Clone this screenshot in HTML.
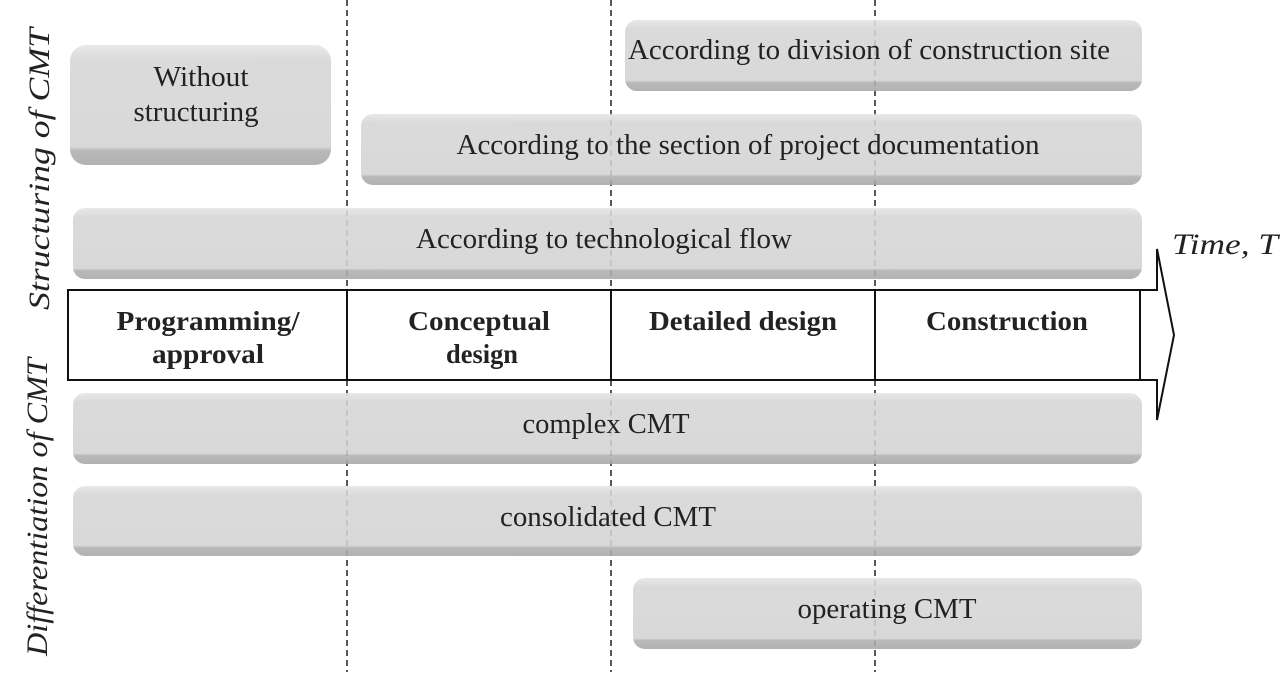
<!DOCTYPE html>
<html><head><style>body{margin:0;background:#fff}svg{display:block}text{font-family:"Liberation Serif",serif;fill:#222}</style></head>
<body>
<svg width="1280" height="688" viewBox="0 0 1280 688">
<defs>
<linearGradient id="g" x1="0" y1="0" x2="0" y2="1">
<stop offset="0" stop-color="#e6e6e6"/><stop offset="0.12" stop-color="#d6d6d6"/><stop offset="0.85" stop-color="#d3d3d3"/><stop offset="0.88" stop-color="#b0b0b0"/><stop offset="1" stop-color="#a8a8a8"/>
</linearGradient>
</defs>
<g stroke="#222" stroke-width="1.5" stroke-dasharray="6,4">
<line x1="347" y1="0" x2="347" y2="672"/><line x1="611" y1="0" x2="611" y2="672"/><line x1="875" y1="0" x2="875" y2="672"/>
</g>
<g fill="url(#g)" opacity="0.88">
<rect x="70" y="45" width="261" height="120" rx="16"/>
<rect x="625" y="20" width="517" height="71" rx="12"/>
<rect x="361" y="114" width="781" height="71" rx="12"/>
<rect x="73" y="208" width="1069" height="71" rx="12"/>
<rect x="73" y="393" width="1069" height="71" rx="12"/>
<rect x="73" y="486" width="1069" height="70" rx="12"/>
<rect x="633" y="578" width="509" height="71" rx="12"/>
</g>
<g font-size="28" text-anchor="middle">
<text x="201" y="86" textLength="95" lengthAdjust="spacingAndGlyphs">Without</text><text x="196" y="121" textLength="125" lengthAdjust="spacingAndGlyphs">structuring</text>
<text x="869" y="59" textLength="482" lengthAdjust="spacingAndGlyphs">According to division of construction site</text>
<text x="748" y="154" textLength="583" lengthAdjust="spacingAndGlyphs">According to the section of project documentation</text>
<text x="604" y="248" textLength="376" lengthAdjust="spacingAndGlyphs">According to technological flow</text>
<text x="606" y="433" textLength="167" lengthAdjust="spacingAndGlyphs">complex CMT</text>
<text x="608" y="526" textLength="216" lengthAdjust="spacingAndGlyphs">consolidated CMT</text>
<text x="887" y="618" textLength="179" lengthAdjust="spacingAndGlyphs">operating CMT</text>
</g>
<polygon points="1140,290 1157,290 1157,249 1174,335 1157,420 1157,380 1140,380" fill="#fff" stroke="#111" stroke-width="2"/>
<rect x="68" y="290" width="1072" height="90" fill="#fff" stroke="#111" stroke-width="2"/>
<g stroke="#111" stroke-width="2"><line x1="347" y1="290" x2="347" y2="380"/><line x1="611" y1="290" x2="611" y2="380"/><line x1="875" y1="290" x2="875" y2="380"/></g>
<g font-size="27" font-weight="bold" text-anchor="middle" style="fill:#111">
<text x="208" y="330" textLength="183" lengthAdjust="spacingAndGlyphs">Programming/</text><text x="208" y="363" textLength="112" lengthAdjust="spacingAndGlyphs">approval</text>
<text x="479" y="330" textLength="142" lengthAdjust="spacingAndGlyphs">Conceptual</text><text x="482" y="363" textLength="72" lengthAdjust="spacingAndGlyphs">design</text>
<text x="743" y="330" textLength="188" lengthAdjust="spacingAndGlyphs">Detailed design</text>
<text x="1007" y="330" textLength="162" lengthAdjust="spacingAndGlyphs">Construction</text>
</g>
<text x="1225" y="254" font-size="30" font-style="italic" text-anchor="middle" textLength="106" lengthAdjust="spacingAndGlyphs">Time, T</text>
<text transform="translate(49,169) rotate(-90)" font-size="30" font-style="italic" text-anchor="middle" textLength="282" lengthAdjust="spacingAndGlyphs">Structuring of CMT</text>
<text transform="translate(47,507) rotate(-90)" font-size="30" font-style="italic" text-anchor="middle" textLength="298" lengthAdjust="spacingAndGlyphs">Differentiation of CMT</text>
</svg>
</body></html>
